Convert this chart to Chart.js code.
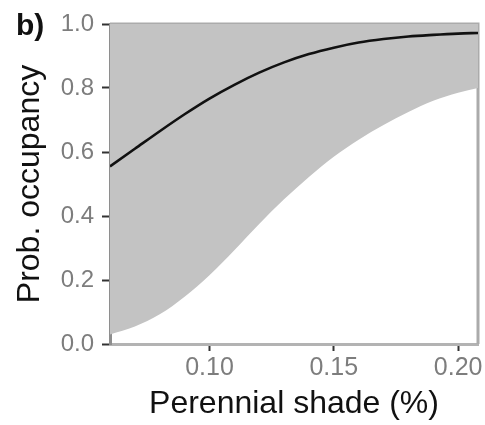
<!DOCTYPE html>
<html>
<head>
<meta charset="utf-8">
<title>Prob. occupancy vs perennial shade</title>
<script src="https://cdn.jsdelivr.net/npm/chart.js@4/dist/chart.umd.min.js"></script>
<style>
  html, body { margin: 0; padding: 0; background: #fff; }
  #wrap { width: 485px; height: 425px; }
</style>
</head>
<body>
<div id="wrap"><canvas id="chart" width="485" height="425"></canvas></div>
<script>
// Values
const shade = [0.06, 0.07, 0.08, 0.09, 0.10, 0.11, 0.12, 0.13, 0.14, 0.15, 0.16, 0.17, 0.18, 0.19, 0.20, 0.208];
const meanOcc = [0.555, 0.61, 0.665, 0.718, 0.767, 0.81, 0.848, 0.88, 0.906, 0.926, 0.942, 0.953, 0.961, 0.966, 0.970, 0.972];
const lowerOcc = [0.03, 0.055, 0.093, 0.148, 0.215, 0.293, 0.375, 0.452, 0.522, 0.585, 0.638, 0.684, 0.725, 0.76, 0.785, 0.80];
const upperOcc = [1, 1, 1, 1, 1, 1, 1, 1, 1, 1, 1, 1, 1, 1, 1, 1];
const xTicks = [0.10, 0.15, 0.20];
const yTicks = [0.0, 0.2, 0.4, 0.6, 0.8, 1.0];

const toPoints = (ys) => shade.map((x, i) => ({ x: x, y: ys[i] }));

// Grey frame on the top and right side of the panel plus the "b)" tag
const framePlugin = {
  id: "frame",
  beforeDatasetsDraw(chart) {
    const a = chart.chartArea;
    const ctx = chart.ctx;
    ctx.save();
    ctx.strokeStyle = "#ababab";
    ctx.lineWidth = 3;
    ctx.beginPath();
    ctx.moveTo(a.left, a.top);
    ctx.lineTo(a.right, a.top);
    ctx.lineTo(a.right, a.bottom);
    ctx.stroke();
    ctx.restore();
  },
  afterDraw(chart) {
    const ctx = chart.ctx;
    ctx.save();
    ctx.fillStyle = "#111";
    ctx.font = "bold 30px 'Liberation Sans', Arial, sans-serif";
    ctx.textBaseline = "alphabetic";
    ctx.fillText("b)", 16, 35);
    ctx.restore();
  }
};

const fontFamily = "'Liberation Sans', Arial, sans-serif";

new Chart(document.getElementById("chart"), {
  type: "line",
  data: {
    datasets: [
      {
        label: "Mean",
        data: toPoints(meanOcc),
        borderColor: "#111",
        borderWidth: 2.6,
        pointRadius: 0,
        cubicInterpolationMode: "monotone",
        fill: false
      },
      {
        label: "Upper",
        data: toPoints(upperOcc),
        borderWidth: 0,
        pointRadius: 0,
        fill: false
      },
      {
        label: "Lower",
        data: toPoints(lowerOcc),
        borderWidth: 0,
        pointRadius: 0,
        cubicInterpolationMode: "monotone",
        backgroundColor: "#c3c3c3",
        fill: "-1"
      }
    ]
  },
  options: {
    responsive: false,
    animation: false,
    layout: { padding: { top: 24, right: 7, left: 0, bottom: 0 } },
    plugins: {
      legend: { display: false },
      tooltip: { enabled: false }
    },
    scales: {
      x: {
        type: "linear",
        min: 0.06,
        max: 0.208,
        afterBuildTicks: (s) => { s.ticks = xTicks.map((v) => ({ value: v })); },
        afterFit: (s) => { s.height = 81; },
        border: { color: "#b3b3b3", width: 3 },
        grid: { drawOnChartArea: false, tickLength: 7, tickColor: "#333", tickWidth: 2 },
        ticks: {
          color: "#7d7d7d",
          font: { family: fontFamily, size: 25 },
          padding: 2,
          maxRotation: 0,
          callback: (v) => Number(v).toFixed(2)
        },
        title: {
          display: true,
          text: "Perennial shade (%)",
          color: "#111",
          font: { family: fontFamily, size: 32 },
          padding: { top: 0, bottom: 2 }
        }
      },
      y: {
        min: 0,
        max: 1,
        afterBuildTicks: (s) => { s.ticks = yTicks.map((v) => ({ value: v })); },
        afterFit: (s) => { s.width = 110; },
        border: { color: "#8e8e8e", width: 3 },
        grid: { drawOnChartArea: false, tickLength: 8, tickColor: "#333", tickWidth: 2 },
        ticks: {
          color: "#7d7d7d",
          font: { family: fontFamily, size: 24 },
          padding: 8,
          callback: (v) => Number(v).toFixed(1)
        },
        title: {
          display: true,
          text: "Prob. occupancy",
          color: "#111",
          font: { family: fontFamily, size: 32 },
          padding: { top: 11, bottom: 0 }
        }
      }
    }
  },
  plugins: [framePlugin]
});
</script>
</body>
</html>
